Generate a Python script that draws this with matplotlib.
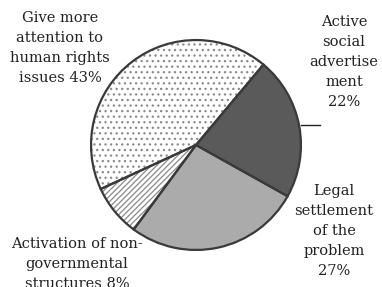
import matplotlib
matplotlib.use("Agg")
import matplotlib.pyplot as plt

labels = ["Active\nsocial\nadvertise\nment\n22%",
          "Legal\nsettlement\nof the\nproblem\n27%",
          "Activation of non-\ngovernmental\nstructures 8%",
          "Give more\nattention to\nhuman rights\nissues 43%"]
values = [22, 27, 8, 43]
facecolors = ["#5a5a5a", "#ababab", "white", "white"]
hatches = ["", "", "//////", "..."]

W, H = 382, 287
fig = plt.figure(figsize=(W / 100, H / 100), dpi=100)
fig.patch.set_facecolor("white")
plt.rcParams['hatch.linewidth'] = 0.9

cx, cy, r = 196, 145, 106
ax = fig.add_axes([(cx - r) / W, (H - cy - r) / H, 2 * r / W, 2 * r / H])

wedges, _ = ax.pie(values, startangle=50, counterclock=False, colors=facecolors,
                   radius=1, wedgeprops=dict(linewidth=0, edgecolor="#8a8a8a"))
for w, h in zip(wedges, hatches):
    w.set_hatch(h)
ax.pie(values, startangle=50, counterclock=False, radius=1,
       wedgeprops=dict(facecolor="none", edgecolor="#3a3a3a", linewidth=1.6))
ax.set_xlim(-1.01, 1.01)
ax.set_ylim(-1.01, 1.01)
ax.set_aspect("equal")
ax.axis("off")

font = dict(family="DejaVu Serif", fontsize=10.5, color="#222222", ha="center",
            va="top", linespacing=1.55)

def ftext(x, y, s):
    fig.text(x / W, 1 - y / H, s, **font)

ftext(60, 11, labels[3])
ftext(344, 15, labels[0])
ftext(334, 184, labels[1])
ftext(77, 237, labels[2])

# leader line for the dark slice
fig.add_artist(plt.Line2D([301 / W, 320 / W], [1 - 125 / H, 1 - 125 / H],
                          color="#222222", linewidth=1.0))

fig.savefig("out.png", dpi=100)
